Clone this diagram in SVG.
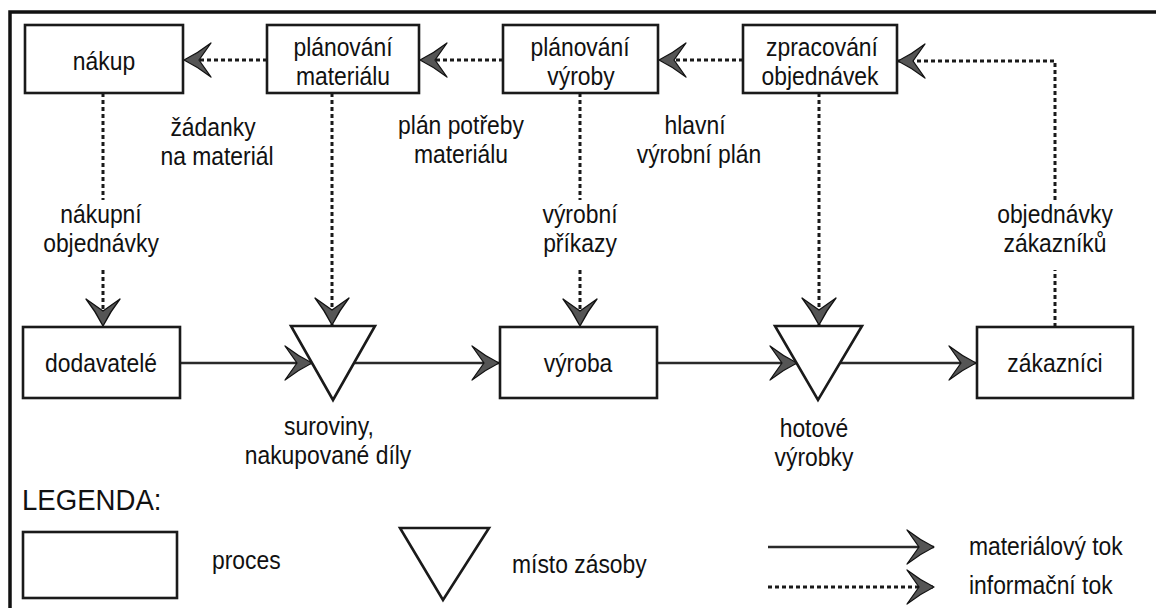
<svg xmlns="http://www.w3.org/2000/svg" width="1156" height="608" viewBox="0 0 1156 608">
<defs>
<style>
text{font-family:"Liberation Sans",Arial,sans-serif;font-size:26px;fill:#111}
.c{text-anchor:middle}
.box{fill:#fff;stroke:#1a1a1a;stroke-width:2.6}
.tri{fill:#fff;stroke:#1a1a1a;stroke-width:2.6;stroke-linejoin:miter}
.info{fill:none;stroke:#1a1a1a;stroke-width:3;stroke-dasharray:4 3}
.mat{fill:none;stroke:#2a2a2a;stroke-width:2.6}
</style>
<marker id="ah" viewBox="-30 -19 32 38" refX="0" refY="0" markerWidth="32" markerHeight="38" markerUnits="userSpaceOnUse" orient="auto">
<path d="M0,0 C-8,-4 -18,-10 -27,-17 L-15,0 L-27,17 C-18,10 -8,4 0,0 Z" fill="#555" stroke="#111" stroke-width="1.3" stroke-linejoin="round"/>
</marker>
</defs>
<rect width="1156" height="608" fill="#fff"/>
<path d="M10,640 V12 H1170" fill="none" stroke="#111" stroke-width="3.5"/>

<g id="connectors">
<line class="info" x1="267" y1="60" x2="184" y2="60" marker-end="url(#ah)"/>
<line class="info" x1="503" y1="60" x2="420" y2="60" marker-end="url(#ah)"/>
<line class="info" x1="743" y1="60" x2="659" y2="60" marker-end="url(#ah)"/>
<path class="info" d="M1055,327 V270"/>
<path class="info" d="M1055,200 V61 H898" marker-end="url(#ah)"/>
<path class="info" d="M103,93 V200"/>
<path class="info" d="M103,270 V326" marker-end="url(#ah)"/>
<path class="info" d="M332,93 V325" marker-end="url(#ah)"/>
<path class="info" d="M580,93 V200"/>
<path class="info" d="M580,270 V326" marker-end="url(#ah)"/>
<path class="info" d="M819,93 V325" marker-end="url(#ah)"/>
<line class="mat" x1="180" y1="363" x2="312" y2="363" marker-end="url(#ah)"/>
<line class="mat" x1="354" y1="363" x2="499" y2="363" marker-end="url(#ah)"/>
<line class="mat" x1="657" y1="363" x2="797" y2="363" marker-end="url(#ah)"/>
<line class="mat" x1="840" y1="363" x2="976" y2="363" marker-end="url(#ah)"/>
</g>

<g id="nakup"><rect class="box" x="25" y="25" width="158" height="68"/><text class="c" transform="translate(104,70) scale(0.88,1)">nákup</text></g>
<g id="planovani-materialu"><rect class="box" x="267" y="25" width="152" height="68"/><text class="c" transform="translate(343,56) scale(0.88,1)">plánování</text><text class="c" transform="translate(343,85) scale(0.88,1)">materiálu</text></g>
<g id="planovani-vyroby"><rect class="box" x="503" y="25" width="155" height="68"/><text class="c" transform="translate(580,56) scale(0.88,1)">plánování</text><text class="c" transform="translate(581,85) scale(0.88,1)">výroby</text></g>
<g id="zpracovani-objednavek"><rect class="box" x="743" y="25" width="154" height="68"/><text class="c" transform="translate(822,56) scale(0.88,1)">zpracování</text><text class="c" transform="translate(820,85) scale(0.88,1)">objednávek</text></g>

<g id="dodavatele"><rect class="box" x="23" y="327" width="157" height="71"/><text class="c" transform="translate(101,372) scale(0.88,1)">dodavatelé</text></g>
<g id="suroviny"><polygon class="tri" points="291,326 375,326 333,400"/><text class="c" transform="translate(329,435) scale(0.88,1)">suroviny,</text><text class="c" transform="translate(328,464) scale(0.88,1)">nakupované díly</text></g>
<g id="vyroba"><rect class="box" x="500" y="327" width="157" height="71"/><text class="c" transform="translate(578,372) scale(0.88,1)">výroba</text></g>
<g id="hotove-vyrobky"><polygon class="tri" points="775,326 862,326 818,400"/><text class="c" transform="translate(814,437) scale(0.88,1)">hotové</text><text class="c" transform="translate(814,466) scale(0.88,1)">výrobky</text></g>
<g id="zakaznici"><rect class="box" x="977" y="327" width="156" height="71"/><text class="c" transform="translate(1055,372) scale(0.88,1)">zákazníci</text></g>

<g id="labels">
<text class="c" transform="translate(213,136) scale(0.88,1)">žádanky</text>
<text class="c" transform="translate(217,165) scale(0.88,1)">na materiál</text>
<text class="c" transform="translate(461,134) scale(0.88,1)">plán potřeby</text>
<text class="c" transform="translate(461,163) scale(0.88,1)">materiálu</text>
<text class="c" transform="translate(695,134) scale(0.88,1)">hlavní</text>
<text class="c" transform="translate(699,163) scale(0.88,1)">výrobní plán</text>
<text class="c" transform="translate(101,223) scale(0.88,1)">nákupní</text>
<text class="c" transform="translate(101,252) scale(0.88,1)">objednávky</text>
<text class="c" transform="translate(580,223) scale(0.88,1)">výrobní</text>
<text class="c" transform="translate(580,252) scale(0.88,1)">příkazy</text>
<text class="c" transform="translate(1055,223) scale(0.88,1)">objednávky</text>
<text class="c" transform="translate(1055,252) scale(0.88,1)">zákazníků</text>
</g>

<g id="legend">
<text transform="translate(22,510) scale(0.92,1)" style="font-size:30px">LEGENDA:</text>
<rect class="box" x="23" y="532" width="154" height="66"/>
<text transform="translate(212,569) scale(0.88,1)">proces</text>
<polygon class="tri" points="400,528 489,528 443,600"/>
<text transform="translate(512,573) scale(0.88,1)">místo zásoby</text>
<line class="mat" x1="768" y1="547" x2="934" y2="547" marker-end="url(#ah)"/>
<line class="info" x1="768" y1="587" x2="934" y2="587" marker-end="url(#ah)"/>
<text transform="translate(969,555) scale(0.88,1)">materiálový tok</text>
<text transform="translate(969,594) scale(0.88,1)">informační tok</text>
</g>
</svg>
